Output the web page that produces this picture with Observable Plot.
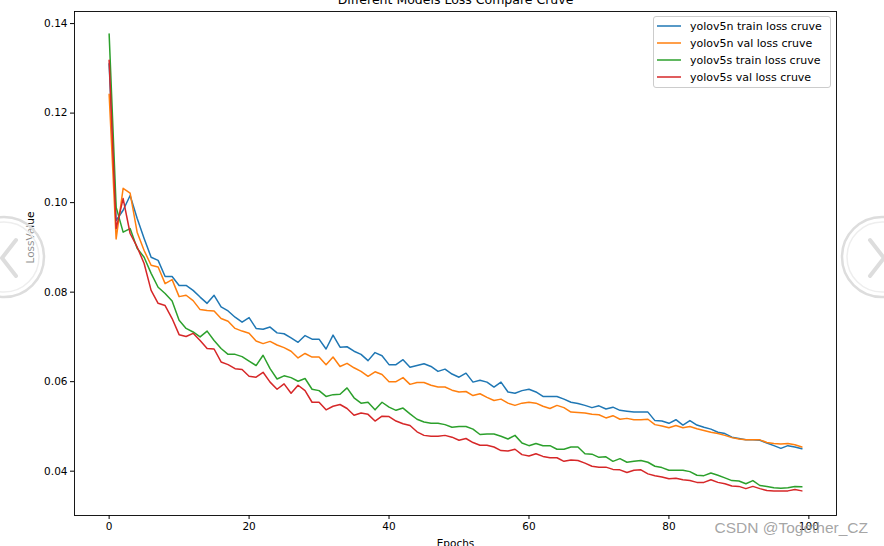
<!DOCTYPE html>
<html>
<head>
<meta charset="utf-8">
<script src="https://cdn.jsdelivr.net/npm/d3@7"></script>
<script src="https://cdn.jsdelivr.net/npm/@observablehq/plot@0.6"></script>
<style>
  html, body { margin: 0; padding: 0; background: white; }
  #wrap { position: relative; width: 884px; height: 546px; overflow: hidden; }
  #overlay { position: absolute; left: 0; top: 0; pointer-events: none; }
</style>
</head>
<body>
<div id="wrap"></div>
<script>
const seriesNames = ["yolov5n train loss cruve", "yolov5n val loss cruve", "yolov5s train loss cruve", "yolov5s val loss cruve"];
const seriesColors = ["#1f77b4", "#ff7f0e", "#2ca02c", "#d62728"];
const epochs = d3.range(100);
const xTicks = [0, 20, 40, 60, 80, 100];
const yTicks = [0.04, 0.06, 0.08, 0.10, 0.12, 0.14];

const v5nTrain = [0.131,0.0960,0.0983,0.1016,0.0965,0.0920,0.0878,0.0871,0.0835,0.0835,
0.0815,0.0815,0.0804,0.0789,0.0775,0.0793,0.0767,0.0758,0.0744,0.0733,
0.0743,0.0719,0.0717,0.0722,0.0709,0.0707,0.0698,0.0688,0.0703,0.0695,
0.0695,0.0673,0.0704,0.0677,0.0678,0.0668,0.0661,0.0647,0.0665,0.0658,
0.0638,0.0638,0.0649,0.0632,0.0636,0.0640,0.0634,0.0623,0.0628,0.0617,
0.0610,0.0619,0.0599,0.0603,0.0599,0.0588,0.0599,0.0577,0.0574,0.0580,
0.0583,0.0577,0.0567,0.0567,0.0567,0.0561,0.0554,0.0551,0.0547,0.0542,
0.0546,0.0539,0.0543,0.0536,0.0534,0.0532,0.0532,0.0532,0.0513,0.0512,
0.0507,0.0515,0.0503,0.0513,0.0503,0.0498,0.0494,0.0487,0.0484,0.0476,
0.0473,0.0470,0.0470,0.0469,0.0463,0.0457,0.0451,0.0457,0.0454,0.0450];

const v5nVal = [0.1242,0.0919,0.1032,0.1021,0.0934,0.0893,0.0860,0.0856,0.0819,0.0828,
0.0790,0.0793,0.0781,0.0761,0.0759,0.0758,0.0741,0.0735,0.0719,0.0713,
0.0708,0.0691,0.0685,0.0690,0.0682,0.0676,0.0668,0.0653,0.0663,0.0655,
0.0655,0.0638,0.0655,0.0634,0.0641,0.0631,0.0623,0.0612,0.0622,0.0616,
0.0600,0.0600,0.0609,0.0594,0.0598,0.0598,0.0592,0.0588,0.0588,0.0581,
0.0577,0.0578,0.0569,0.0573,0.0565,0.0558,0.0561,0.0552,0.0547,0.0552,
0.0554,0.0552,0.0545,0.0540,0.0547,0.0542,0.0532,0.0531,0.0530,0.0527,
0.0526,0.0519,0.0524,0.0516,0.0518,0.0515,0.0515,0.0516,0.0504,0.0501,
0.0497,0.0502,0.0497,0.0500,0.0495,0.0491,0.0487,0.0484,0.0480,0.0475,
0.0472,0.0470,0.0470,0.0470,0.0464,0.0462,0.0461,0.0462,0.0459,0.0454];

const v5sTrain = [0.1377,0.0990,0.0934,0.0942,0.0898,0.0878,0.0842,0.0811,0.0797,0.0780,
0.0737,0.0719,0.0711,0.0700,0.0713,0.0692,0.0674,0.0661,0.0661,0.0656,
0.0646,0.0636,0.0659,0.0629,0.0606,0.0613,0.0609,0.0601,0.0607,0.0583,
0.0580,0.0567,0.0571,0.0572,0.0586,0.0564,0.0552,0.0554,0.0537,0.0554,
0.0543,0.0536,0.0541,0.0528,0.0516,0.0510,0.0507,0.0507,0.0504,0.0498,
0.0500,0.0500,0.0494,0.0482,0.0483,0.0483,0.0478,0.0472,0.0480,0.0463,
0.0457,0.0462,0.0457,0.0457,0.0449,0.0449,0.0454,0.0454,0.0439,0.0438,
0.0431,0.0432,0.0422,0.0428,0.0420,0.0422,0.0424,0.0420,0.0411,0.0408,
0.0402,0.0402,0.0402,0.0399,0.0391,0.0390,0.0396,0.0391,0.0385,0.0379,
0.0378,0.0372,0.0379,0.0368,0.0366,0.0363,0.0362,0.0363,0.0366,0.0365];

const v5sVal = [0.1318,0.0942,0.1009,0.0931,0.0901,0.0864,0.0804,0.0775,0.0770,0.0741,
0.0705,0.0701,0.0708,0.0692,0.0674,0.0673,0.0644,0.0638,0.0629,0.0627,
0.0612,0.0610,0.0621,0.0599,0.0583,0.0595,0.0574,0.0592,0.0580,0.0554,
0.0554,0.0537,0.0545,0.0549,0.0540,0.0525,0.0530,0.0527,0.0512,0.0523,
0.0522,0.0512,0.0506,0.0502,0.0488,0.0480,0.0478,0.0478,0.0480,0.0476,
0.0469,0.0473,0.0464,0.0458,0.0458,0.0454,0.0446,0.0445,0.0449,0.0437,
0.0434,0.0439,0.0433,0.0430,0.0430,0.0422,0.0425,0.0424,0.0418,0.0411,
0.0409,0.0409,0.0404,0.0403,0.0397,0.0402,0.0403,0.0394,0.0390,0.0387,
0.0383,0.0384,0.0381,0.0379,0.0375,0.0375,0.0381,0.0375,0.0372,0.0367,
0.0366,0.0361,0.0366,0.0361,0.0357,0.0356,0.0356,0.0356,0.0359,0.0356];

const seriesValues = [v5nTrain, v5nVal, v5sTrain, v5sVal];
const rows = seriesValues.flatMap((vals, s) => vals.map((v, i) => ({series: seriesNames[s], epoch: epochs[i], loss: v})));

const font = "DejaVu Sans, sans-serif";

const chart = Plot.plot({
  width: 884,
  height: 546,
  marginLeft: 74,
  marginRight: 48,
  marginTop: 11,
  marginBottom: 31,
  style: {fontFamily: font, fontSize: "10.5px", color: "#000", background: "white"},
  x: {domain: [-4.95, 103.95]},
  y: {domain: [0.0301, 0.1427]},
  color: {domain: seriesNames, range: seriesColors},
  marks: [
    Plot.line(rows, {x: "epoch", y: "loss", z: "series", stroke: "series", strokeWidth: 1.5}),
    Plot.frame({stroke: "#000", strokeWidth: 0.9}),
    Plot.axisX({ticks: xTicks, tickSize: 4, tickPadding: 3, tickFormat: d => String(d), label: null, stroke: "#000"}),
    Plot.axisY({ticks: yTicks, tickSize: 4, tickPadding: 3, tickFormat: d3.format(".2f"), label: null, stroke: "#000"}),
    Plot.text(["Different Models Loss Compare Cruve"], {frameAnchor: "top", dy: -8, lineAnchor: "bottom", fontSize: 12.5, fill: "#000"}),
    Plot.text(["Epochs"], {frameAnchor: "bottom", dy: 24, lineAnchor: "top", fontSize: 10.5, fill: "#000"}),
    Plot.text(["LossValue"], {frameAnchor: "left", dx: -44, rotate: -90, fontSize: 10.5, fill: "#000"})
  ]
});

const wrap = document.getElementById("wrap");
wrap.appendChild(chart);

// Overlay: legend, page watermark and carousel arrows
const ov = d3.select(wrap).append("svg")
  .attr("id", "overlay").attr("width", 884).attr("height", 546);

const leg = ov.append("g");
leg.append("rect")
  .attr("x", 653.5).attr("y", 16.5).attr("width", 177).attr("height", 71).attr("rx", 2.5)
  .attr("fill", "white").attr("fill-opacity", 0.8).attr("stroke", "#cccccc");
seriesNames.forEach((name, i) => {
  const yy = 26 + 17 * i;
  leg.append("line").attr("x1", 657).attr("x2", 681).attr("y1", yy).attr("y2", yy)
    .attr("stroke", seriesColors[i]).attr("stroke-width", 1.5);
  leg.append("text").attr("x", 690).attr("y", yy).attr("dy", "0.35em")
    .attr("font-family", font).attr("font-size", 11).attr("fill", "#000").text(name);
});

function arrow(cx, dir) {
  const g = ov.append("g");
  g.append("circle").attr("cx", cx).attr("cy", 257).attr("r", 40)
    .attr("fill", "white").attr("fill-opacity", 0.55)
    .attr("stroke", "#dddddd").attr("stroke-width", 2.5);
  g.append("circle").attr("cx", cx).attr("cy", 257).attr("r", 35)
    .attr("fill", "none").attr("stroke", "#eeeeee").attr("stroke-width", 1.5);
  const x0 = cx + dir * 12, x1 = cx - dir * 2;
  g.append("polyline")
    .attr("points", `${x0},240 ${x1},258 ${x0},276`)
    .attr("fill", "none").attr("stroke", "#dddddd").attr("stroke-width", 4)
    .attr("stroke-linecap", "round").attr("stroke-linejoin", "round");
}
arrow(4, 1);
arrow(882, -1);

ov.append("text").attr("x", 868).attr("y", 528).attr("dy", "0.35em").attr("text-anchor", "end")
  .attr("font-family", "Liberation Sans, Arial, sans-serif").attr("font-size", 15.5)
  .attr("fill", "#9a9a9a").attr("fill-opacity", 0.9).text("CSDN @Together_CZ");
</script>
</body>
</html>
